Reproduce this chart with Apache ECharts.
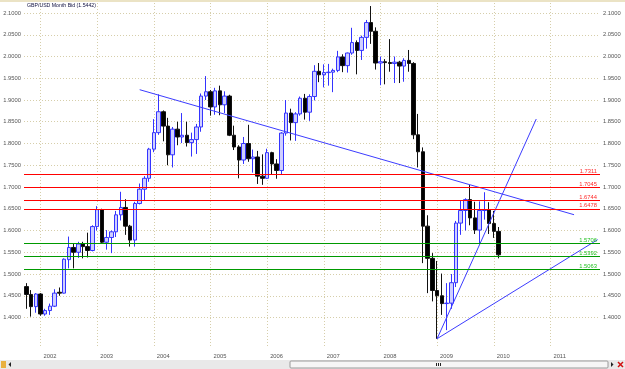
<!DOCTYPE html>
<html><head><meta charset="utf-8">
<script src="https://cdn.jsdelivr.net/npm/echarts@6/dist/echarts.min.js"></script>
<style>html,body{margin:0;padding:0;background:#fff}#c{width:625px;height:369px}</style>
</head><body><div id="c"></div>
<script>
// ---- data ----
const firstYear = 2001, firstMonth = 10, monthCount = 122; // Oct 2001 .. Nov 2011 (axis span)
const categories = [];
for (let k = 0; k < monthCount; k++) {
  const m = firstMonth - 1 + k;
  const y = firstYear + Math.floor(m / 12);
  const mm = (m % 12) + 1;
  categories.push(y + '-' + (mm < 10 ? '0' + mm : '' + mm));
}
// monthly candles from 2001-10 to 2010-02
const opens = [1.4710,1.4530,1.4250,
 1.4540,1.4080,1.4160,1.4260,1.4580,1.4560,1.5330,1.5610,1.5500,1.5690,1.5630,1.5540,
 1.6090,1.6480,1.5730,1.5840,1.5970,1.6360,1.6530,1.6100,1.5780,1.6620,1.6950,1.7200,
 1.7870,1.8250,1.8730,1.8400,1.7740,1.8330,1.8150,1.8190,1.8020,1.8090,1.8380,1.9090,
 1.9190,1.8840,1.9210,1.8890,1.9090,1.8190,1.7920,1.7620,1.8000,1.7650,1.7690,1.7250,
 1.7200,1.7790,1.7530,1.7380,1.8240,1.8700,1.8480,1.8680,1.9040,1.8720,1.9080,1.9660,
 1.9580,1.9630,1.9640,1.9680,1.9990,1.9790,2.0080,2.0320,2.0140,2.0440,2.0780,2.0580,
 1.9850,1.9880,1.9860,1.9840,1.9870,1.9780,1.9910,1.9840,1.8200,1.7810,1.6100,1.5360,
 1.4620,1.4500,1.4320,1.4330,1.4800,1.6170,1.6460,1.6710,1.6290,1.6010,1.6460,1.6470,
 1.6160,1.5980];
const highs = [1.4790,1.4630,1.4560,
 1.4560,1.4200,1.4320,1.4650,1.4690,1.5360,1.5860,1.5700,1.5740,1.5740,1.5950,1.6120,
 1.6560,1.6500,1.6010,1.6000,1.6450,1.6890,1.6720,1.6130,1.6660,1.7080,1.7250,1.7900,
 1.8560,1.9130,1.8760,1.8590,1.8380,1.8500,1.8700,1.8500,1.8250,1.8450,1.9150,1.9550,
 1.9230,1.9280,1.9330,1.9200,1.9120,1.8410,1.7960,1.8150,1.8430,1.7860,1.7830,1.7750,
 1.7880,1.7810,1.7640,1.8260,1.9000,1.8800,1.8720,1.9080,1.9140,1.9130,1.9800,1.9850,
 1.9820,1.9830,1.9720,2.0130,2.0050,2.0090,2.0660,2.0370,2.0480,2.0840,2.1160,2.0670,
 2.0000,1.9940,2.0400,2.0000,1.9900,1.9960,2.0150,1.9870,1.8680,1.7910,1.6350,1.5480,
 1.5300,1.5010,1.4790,1.5000,1.6220,1.6700,1.6740,1.7045,1.6660,1.6670,1.6880,1.6650,
 1.6450,1.6080];
const lows = [1.4200,1.4020,1.4110,
 1.4040,1.4040,1.4060,1.4240,1.4500,1.4550,1.5130,1.5130,1.5370,1.5360,1.5380,1.5520,
 1.6000,1.5700,1.5560,1.5480,1.5850,1.6230,1.5900,1.5630,1.5630,1.6600,1.6700,1.7120,
 1.7800,1.8200,1.8050,1.7500,1.7450,1.7960,1.8010,1.7930,1.7700,1.7760,1.8270,1.9000,
 1.8640,1.8660,1.8650,1.8700,1.8170,1.7850,1.7200,1.7530,1.7580,1.7330,1.7070,1.7050,
 1.7190,1.7280,1.7190,1.7290,1.8180,1.8070,1.8060,1.8640,1.8550,1.8520,1.8990,1.9410,
 1.9290,1.9330,1.9180,1.9640,1.9640,1.9630,2.0040,1.9590,1.9920,2.0180,2.0290,1.9700,
 1.9340,1.9360,1.9650,1.9390,1.9390,1.9420,1.9650,1.8100,1.7450,1.5250,1.4560,1.4370,
 1.3510,1.4060,1.3710,1.4200,1.4700,1.5900,1.6000,1.6120,1.5920,1.5710,1.6250,1.5920,
 1.5830,1.5360];
const closes = [1.4530,1.4250,1.4540,
 1.4080,1.4160,1.4260,1.4560,1.4560,1.5340,1.5610,1.5500,1.5690,1.5630,1.5540,1.6090,
 1.6480,1.5730,1.5840,1.5970,1.6360,1.6530,1.6100,1.5780,1.6620,1.6950,1.7200,1.7870,
 1.8250,1.8730,1.8400,1.7740,1.8330,1.8150,1.8190,1.8020,1.8090,1.8380,1.9090,1.9190,
 1.8840,1.9210,1.8890,1.9090,1.8190,1.7920,1.7620,1.8000,1.7650,1.7690,1.7250,1.7200,
 1.7790,1.7530,1.7380,1.8240,1.8700,1.8480,1.8680,1.9040,1.8720,1.9080,1.9660,1.9580,
 1.9630,1.9640,1.9680,1.9990,1.9790,2.0080,2.0320,2.0140,2.0440,2.0780,2.0580,1.9850,
 1.9880,1.9860,1.9840,1.9870,1.9780,1.9910,1.9840,1.8200,1.7810,1.6100,1.5360,1.4620,
 1.4500,1.4320,1.4330,1.4800,1.6170,1.6460,1.6710,1.6290,1.6010,1.6460,1.6470,1.6160,
 1.5980,1.5442];
const priceTicks = [1.40, 2.10, 0.05]; // min, max, step of the price labels
const redLevels = [1.7311, 1.7045, 1.6744, 1.6478];
const greenLevels = [1.5706, 1.5392, 1.5063];
const trendStarts = [['2003-10', 1.9237], ['2009-01', 1.3513], ['2009-01', 1.3513]];
const trendEnds   = [['2011-06', 1.6363], ['2010-10', 1.8563], ['2011-11', 1.5790]];
const titleText = 'GBP/USD Month Bid (1.5442)';

// ---- layout ----
const W = 625, H = 369;
const plotLeft = 24, plotRight = 600, plotTop = 3, plotBottom = 346;
const yTop = 13, yBottom = 317.5; // pixel rows of the 2.1000 and 1.4000 ticks
const pxPerUnit = (yBottom - yTop) / (priceTicks[1] - priceTicks[0]);
const mainMin = priceTicks[0] - (plotBottom - yBottom) / pxPerUnit;
const mainMax = priceTicks[1] + (yTop - plotTop) / pxPerUnit;

const candleData = opens.map((o, i) => [o, closes[i], lows[i], highs[i]]);
const FONT = 'Liberation Sans';
const gridCol = '#d6ceaa';
const isJan = (idx, val) => String(val).endsWith('-01');

const levelLine = (v, lineColor, textColor) => ({
  yAxis: v,
  lineStyle: { color: lineColor, width: 1, type: 'solid' },
  label: { show: true, position: 'insideEndTop', formatter: v.toFixed(4), color: textColor,
           fontSize: 5.8, fontFamily: FONT, distance: [3, 0] }
});

const chart = echarts.init(document.getElementById('c'), null, { renderer: 'canvas' });
chart.setOption({
  animation: false,
  backgroundColor: '#ffffff',
  title: { text: titleText, left: 27, top: 3, padding: 0,
           textStyle: { fontSize: 5.2, fontWeight: 'normal', color: '#101040', fontFamily: FONT } },
  grid: [
    { left: plotLeft, right: W - plotRight, top: plotTop, bottom: H - plotBottom },
    { left: plotLeft, right: W - plotRight, top: yTop, bottom: H - yBottom }
  ],
  xAxis: [
    { type: 'category', gridIndex: 0, data: categories, boundaryGap: true,
      axisLine: { show: false }, axisTick: { show: false },
      axisLabel: { interval: isJan, formatter: v => v.slice(0, 4), align: 'left', padding: [0, 0, 0, 3],
                   margin: 7, fontSize: 5.8, color: '#555', fontFamily: FONT },
      splitLine: { show: true, interval: isJan, alignWithLabel: true,
                   lineStyle: { color: gridCol, type: [1, 2], width: 1 } } },
    { type: 'category', gridIndex: 1, data: categories, show: false }
  ],
  yAxis: [
    { type: 'value', gridIndex: 0, min: mainMin, max: mainMax, show: false, splitLine: { show: false } },
    { type: 'value', gridIndex: 1, min: priceTicks[0], max: priceTicks[1], interval: priceTicks[2],
      position: 'left', axisLine: { show: false }, axisTick: { show: false },
      axisLabel: { formatter: v => v.toFixed(4), fontSize: 5.8, color: '#555', fontFamily: FONT, margin: 3 },
      splitLine: { show: true, lineStyle: { color: gridCol, type: [1, 2], width: 1 } } },
    { type: 'value', gridIndex: 1, min: priceTicks[0], max: priceTicks[1], interval: priceTicks[2],
      position: 'right', axisLine: { show: false }, axisTick: { show: false },
      axisLabel: { formatter: v => v.toFixed(4), fontSize: 5.8, color: '#555', fontFamily: FONT, margin: 3 },
      splitLine: { show: false } }
  ],
  series: [
    { type: 'candlestick', xAxisIndex: 0, yAxisIndex: 0, data: candleData, barWidth: 4,
      itemStyle: { color: '#cfcfff', color0: '#000000', borderColor: '#3434ff', borderColor0: '#111111', borderWidth: 1 },
      markLine: { symbol: 'none', silent: true, animation: false,
        data: redLevels.map(v => levelLine(v, '#ff0000', '#ff2a2a'))
              .concat(greenLevels.map(v => levelLine(v, '#009a00', '#22c022'))) }
    }
  ].concat(trendStarts.map((s, k) => ({
    type: 'line', xAxisIndex: 0, yAxisIndex: 0, data: [s, trendEnds[k]], showSymbol: false, symbol: 'none',
    lineStyle: { color: '#3c3cff', width: 1 }, silent: true, z: 3
  }))),
  graphic: [
    { type: 'rect', shape: { x: 0, y: 0, width: W, height: 2 }, style: { fill: '#ebe3c5' }, silent: true },
    { type: 'rect', shape: { x: 0, y: 360, width: W, height: 9 }, style: { fill: '#e9e9e9' }, silent: true },
    { type: 'rect', shape: { x: 290, y: 361, width: 318, height: 7, r: 1 }, style: { fill: '#f6f6f6', stroke: '#9a9a9a', lineWidth: 1 }, silent: true },
    { type: 'rect', shape: { x: 436, y: 363, width: 1, height: 3 }, style: { fill: '#222' }, silent: true },
    { type: 'rect', shape: { x: 438, y: 363, width: 1, height: 3 }, style: { fill: '#222' }, silent: true },
    { type: 'rect', shape: { x: 440, y: 363, width: 1, height: 3 }, style: { fill: '#222' }, silent: true },
    { type: 'rect', shape: { x: 1, y: 361, width: 5, height: 7 }, style: { fill: '#e8b040' }, silent: true },
    { type: 'polygon', shape: { points: [[11, 362], [11, 367], [8.5, 364.5]] }, style: { fill: '#222' }, silent: true },
    { type: 'polygon', shape: { points: [[611, 362], [611, 367], [613.5, 364.5]] }, style: { fill: '#222' }, silent: true },
    { type: 'polyline', shape: { points: [[618, 362], [623, 367]] }, style: { stroke: '#d01010', lineWidth: 1.5 }, silent: true },
    { type: 'polyline', shape: { points: [[623, 362], [618, 367]] }, style: { stroke: '#d01010', lineWidth: 1.5 }, silent: true }
  ]
});
</script></body></html>
